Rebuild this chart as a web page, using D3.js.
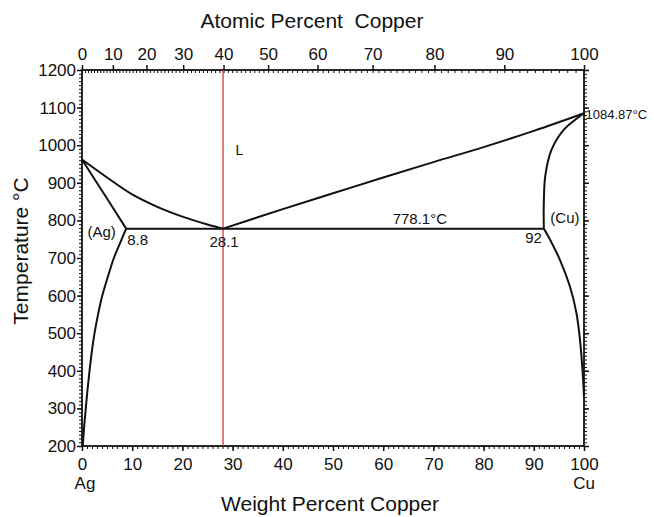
<!DOCTYPE html>
<html>
<head>
<meta charset="utf-8">
<script src="https://cdn.jsdelivr.net/npm/d3@7"></script>
<style>
  html, body { margin: 0; padding: 0; background: #fff; }
  svg { display: block; }
  text { font-family: "Liberation Sans", Arial, Helvetica, sans-serif; fill: #111; }
</style>
</head>
<body>
<div id="chart"></div>
<script>
// ---- data ----
const WT_TICKS = [0, 10, 20, 30, 40, 50, 60, 70, 80, 90, 100];
const AT_TICKS = [0, 10, 20, 30, 40, 50, 60, 70, 80, 90, 100];
const TEMP_TICKS = [200, 300, 400, 500, 600, 700, 800, 900, 1000, 1100, 1200];

// phase boundaries: [wt% Cu, temperature °C]
const agLiquidus = [[0, 961.8], [5, 914], [10, 869], [15, 836], [20, 810], [25, 789], [28.1, 778.1]];
const agSolidus = [[0, 961.8], [4.6, 866], [8.8, 778.1]];
const agSolvus = [[8.8, 778.1], [7.6, 740], [6.35, 700], [5.15, 650], [4.05, 600], [3.2, 550], [2.5, 500], [1.95, 450], [1.5, 400], [1.1, 350], [0.75, 300], [0.42, 250], [0.15, 200]];
const cuLiquidus = [[28.1, 778.1], [40, 830], [50, 872], [60, 914], [70, 955], [80, 995], [90, 1038], [100, 1084.87]];
const cuSolidus = [[100, 1084.87], [98, 1065], [95.9, 1040], [93.5, 987], [92.3, 920], [92, 850], [92, 778.1]];
const cuSolvus = [[92, 778.1], [92.9, 757], [95.2, 695], [97.2, 624], [98.5, 553], [99.2, 482], [99.6, 420], [99.85, 370], [100, 330]];
const eutectic = [[8.8, 778.1], [92, 778.1]];
const eutecticComp = 28.1;

const labels = [
  { text: "L", wt: 30.6, t: 974, anchor: "start", size: 14 },
  { text: "778.1°C", wt: 67.3, t: 790, anchor: "middle", size: 15 },
  { text: "28.1", wt: 28.3, t: 730, anchor: "middle", size: 15 },
  { text: "8.8", wt: 9.0, t: 734, anchor: "start", size: 15 },
  { text: "(Ag)", wt: 3.9, t: 755, anchor: "middle", size: 15 },
  { text: "(Cu)", wt: 96.2, t: 792, anchor: "middle", size: 15 },
  { text: "92", wt: 91.6, t: 741, anchor: "end", size: 15 },
  { text: "1084.87°C", wt: 100.3, t: 1069, anchor: "start", size: 13 }
];

(function () {
// ---- layout ----
const W = 654, H = 517;
const mLeft = 82, mRight = 584, mTop = 70, mBottom = 446;

const svg = d3.select("#chart").append("svg").attr("width", W).attr("height", H);
svg.append("rect").attr("width", W).attr("height", H).attr("fill", "#fff");

const x = d3.scaleLinear().domain([0, 100]).range([mLeft, mRight]);
const y = d3.scaleLinear().domain([200, 1200]).range([mBottom, mTop]);

// atomic % -> weight % (Cu 63.546, Ag 107.868)
const atToWt = a => 100 * a * 63.546 / (a * 63.546 + (100 - a) * 107.868);
const atGrid = d3.range(0, 101, 1);
const xAt = d3.scaleLinear().domain(atGrid).range(atGrid.map(a => x(atToWt(a))));

const fontSize = 17;
const fmt = d3.format("d");

// minor ticks
function minor(axisGen, g) {
  g.call(axisGen).call(s => s.select(".domain").remove()).selectAll("text").remove();
  g.selectAll("line").attr("stroke", "#111").attr("stroke-width", 1);
}
minor(d3.axisBottom(x).tickValues(d3.range(0, 101, 1)).tickSize(3).tickFormat(""),
      svg.append("g").attr("transform", `translate(0,${mBottom})`));
minor(d3.axisBottom(xAt).tickValues(d3.range(0, 101, 1)).tickSize(3).tickFormat(""),
      svg.append("g").attr("transform", `translate(0,${mTop})`));
minor(d3.axisLeft(y).tickValues(d3.range(200, 1201, 10)).tickSize(3).tickFormat(""),
      svg.append("g").attr("transform", `translate(${mLeft},0)`));
minor(d3.axisRight(y).tickValues(d3.range(200, 1201, 10)).tickSize(3).tickFormat(""),
      svg.append("g").attr("transform", `translate(${mRight},0)`));

// major axes
function styleAxis(g) {
  g.select(".domain").remove();
  g.selectAll("line").attr("stroke", "#111").attr("stroke-width", 1.5);
  g.selectAll("text").attr("font-size", fontSize).attr("fill", "#111")
    .attr("font-family", "'Liberation Sans', Arial, Helvetica, sans-serif");
}
svg.append("g").attr("transform", `translate(0,${mBottom})`)
  .call(d3.axisBottom(x).tickValues(WT_TICKS).tickFormat(fmt).tickSize(5).tickPadding(7)).call(styleAxis);
svg.append("g").attr("transform", `translate(0,${mTop})`)
  .call(d3.axisTop(xAt).tickValues(AT_TICKS).tickFormat(fmt).tickSize(5).tickPadding(5)).call(styleAxis);
svg.append("g").attr("transform", `translate(${mLeft},0)`)
  .call(d3.axisLeft(y).tickValues(TEMP_TICKS).tickFormat(fmt).tickSize(5).tickPadding(1)).call(styleAxis);
svg.append("g").attr("transform", `translate(${mRight},0)`)
  .call(d3.axisRight(y).tickValues(TEMP_TICKS).tickSize(5).tickFormat("")).call(styleAxis);

// frame
svg.append("rect").attr("x", mLeft).attr("y", mTop).attr("width", mRight - mLeft).attr("height", mBottom - mTop)
  .attr("fill", "none").attr("stroke", "#111").attr("stroke-width", 1.8);

// red composition line
svg.append("line")
  .attr("x1", x(eutecticComp)).attr("x2", x(eutecticComp))
  .attr("y1", y(200)).attr("y2", y(1200))
  .attr("stroke", "#e0262c").attr("stroke-width", 1.2);

// phase boundaries
const line = d3.line().x(d => x(d[0])).y(d => y(d[1])).curve(d3.curveCatmullRom.alpha(0.5));
[agLiquidus, agSolidus, agSolvus, cuLiquidus, cuSolidus, cuSolvus].forEach(c => {
  svg.append("path").attr("d", line(c)).attr("fill", "none").attr("stroke", "#111")
    .attr("stroke-width", 2).attr("stroke-linejoin", "round");
});
svg.append("path").attr("d", d3.line().x(d => x(d[0])).y(d => y(d[1]))(eutectic))
  .attr("fill", "none").attr("stroke", "#111").attr("stroke-width", 2);

// labels
labels.forEach(l => {
  svg.append("text").attr("x", x(l.wt)).attr("y", y(l.t))
    .attr("text-anchor", l.anchor).attr("font-size", l.size).text(l.text);
});

// axis titles and end labels
svg.append("text").attr("x", 312).attr("y", 28).attr("text-anchor", "middle")
  .attr("font-size", 21).style("white-space", "pre").text("Atomic Percent  Copper");
svg.append("text").attr("x", 330).attr("y", 511).attr("text-anchor", "middle")
  .attr("font-size", 21).text("Weight Percent Copper");
svg.append("text").attr("transform", "translate(28,251) rotate(-90)").attr("text-anchor", "middle")
  .attr("font-size", 21).text("Temperature °C");
svg.append("text").attr("x", x(0) + 3).attr("y", 489).attr("text-anchor", "middle")
  .attr("font-size", fontSize).text("Ag");
svg.append("text").attr("x", x(100)).attr("y", 489).attr("text-anchor", "middle")
  .attr("font-size", fontSize).text("Cu");
})();
</script>
</body>
</html>
